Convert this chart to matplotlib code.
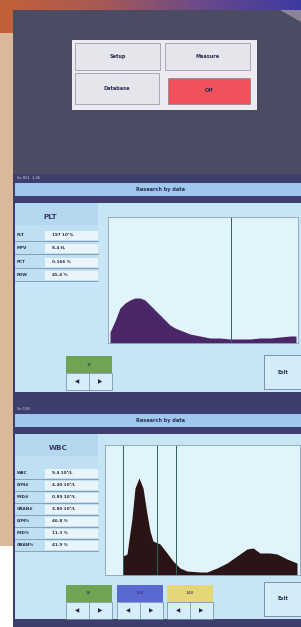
import numpy as np
import matplotlib
matplotlib.use("Agg")
import matplotlib.pyplot as plt
from matplotlib.patches import Rectangle, Polygon

# ---- data ----
menu_labels = ["Setup", "Measure", "Database", "Off"]

plt_names = ["PLT", "MPV", "PCT", "PDW"]
plt_values = ["197 10⁹/L", "8.4 fL", "0.166 %", "45.4 %"]
plt_channel = [2, 7, 12, 17, 22, 27, 32, 37, 42, 47, 52, 57, 62, 67, 72, 77,
               82, 87, 92, 102, 112, 122, 132, 142, 152, 162, 172, 182, 188]
plt_count = [11, 22, 35, 40, 43, 45, 45, 43, 38, 33, 28, 23, 18, 15, 13, 11,
             9, 8, 7, 5, 5, 4, 4, 4, 5, 5, 6, 7, 7]
plt_gates = [123]
plt_gate_labels = ["1F"]

wbc_names = ["WBC", "LYM#", "MID#", "GRAN#", "LYM%", "MID%", "GRAN%"]
wbc_values = ["9.4 10⁹/L", "4.40 10⁹/L", "0.89 10⁹/L", "3.80 10⁹/L",
              "46.8 %", "11.3 %", "41.9 %"]
wbc_channel = [17.9, 18, 22, 27, 30, 34, 38, 42, 45, 48, 55, 62, 68, 75, 82,
               95, 102, 112, 122, 132, 142, 148, 155, 165, 172, 182, 192]
wbc_count = [0, 19, 21, 57, 87, 97, 87, 61, 44, 34, 31, 22, 14, 7, 4,
             3, 3, 7, 12, 19, 26, 27, 22, 22, 21, 16, 12]
wbc_gates = [18, 52, 71]
wbc_gate_labels = ["35", "120", "148"]
wbc_gate_colors = ["#6ea452", "#5a68d2", "#e6d67a"]

W, H = 301, 627
fig = plt.figure(figsize=(W / 100, H / 100), dpi=100)
bg = fig.add_axes([0, 0, 1, 1])
bg.set_xlim(0, W)
bg.set_ylim(H, 0)
bg.axis("off")

txt = "#2c2c52"
fs = 3.6


def box(x, y, w, h, fc, ec="none", lw=0.6, z=1):
    bg.add_patch(Rectangle((x, y), w, h, facecolor=fc, edgecolor=ec, lw=lw, zorder=z))


# page background
box(0, 0, W, H, "white", z=0)
box(0, 0, 14, 546, "#d9b999", z=0)
grad = np.linspace(0, 1, 200).reshape(1, -1)
cmap = matplotlib.colors.LinearSegmentedColormap.from_list(
    "g", ["#c2603a", "#a85a55", "#6a4a8a", "#3e3aa0"])
bg.imshow(grad, extent=(0, W, 10, 0), cmap=cmap, aspect="auto", zorder=0.5)
box(0, 0, 14, 33, "#c2603a", z=0.6)

# top screen (menu)
box(13, 10, W - 13, 164, "#4c4b64", z=1)
bg.add_patch(Polygon([(280, 10), (301, 10), (301, 22)], closed=True,
                     facecolor="#8a8496", edgecolor="none", zorder=1.2))
box(72, 40, 185, 70, "#ebebf1", z=2)
btns = [(75, 43, 85, 27), (165, 43, 85, 27), (75, 73, 84, 31), (168, 78, 82, 26)]
for i, (bx, by, bw, bh) in enumerate(btns):
    fc = "#f0525c" if menu_labels[i] == "Off" else "#e5e5ec"
    box(bx, by, bw, bh, fc, ec="#7a7a88", lw=0.4, z=3)
    bg.text(bx + bw / 2, by + bh / 2, menu_labels[i], ha="center", va="center",
            fontsize=fs, color=txt, fontweight="bold", zorder=4)


def screen(y0, y1, status, title, names, values, row_y, head, head_y, head_x):
    box(13, y0, W - 13, y1 - y0, "#3d3d6e", z=1)
    box(15, y0 + 9, W - 15, 13, "#9fc7ee", z=2)
    bg.text(160, y0 + 15.5, title, ha="center", va="center", fontsize=fs,
            color=txt, fontweight="bold", zorder=3)
    bg.text(17, y0 + 4, status, fontsize=2.6, color="#c8d0e8", va="center", zorder=3)
    box(15, y0 + 29, W - 15, y1 - y0 - 37, "#c6e6f6", z=2)
    # table
    box(15, y0 + 29, 83, row_y[-1] - y0 - 23, "#bfe0f3", z=2.2)
    box(15, y0 + 29, 83, head_y - y0 - 21, "#b3d8f0", z=2.3)
    bg.text(head_x, head_y, head, ha="center", va="center", fontsize=5.2,
            color="#3a3a60", fontweight="bold", zorder=3)
    for n, v, ry in zip(names, values, row_y):
        box(45, ry - 4.5, 53, 9, "#e9f5fb", z=2.5)
        bg.plot([15, 98], [ry + 6, ry + 6], color="#5c6a90", lw=0.4, zorder=2.6)
        bg.text(17, ry, n, ha="left", va="center", fontsize=3.0, color=txt,
                fontweight="bold", zorder=3)
        bg.text(52, ry, v, ha="left", va="center", fontsize=3.0, color=txt,
                fontweight="bold", zorder=3)
    box(264, y1 - 45, 37, 34, "#d3ecf8", ec="#5c6a90", lw=0.5, z=3)
    bg.text(283, y1 - 28, "Exit", ha="center", va="center", fontsize=fs,
            color=txt, fontweight="bold", zorder=4)


def gate_buttons(xs, y, labels, colors):
    for bx, lab, col in zip(xs, labels, colors):
        box(bx, y, 46, 17, col, z=3)
        bg.text(bx + 23, y + 8.5, lab, ha="center", va="center", fontsize=3.2,
                color=txt, zorder=4)
        box(bx, y + 17, 46, 17, "#d6eefa", ec="#5c6a90", lw=0.4, z=3)
        bg.plot([bx + 23, bx + 23], [y + 17, y + 34], color="#5c6a90", lw=0.4, zorder=4)
        bg.text(bx + 11, y + 25.5, "◀", ha="center", va="center", fontsize=4,
                color="#23234a", zorder=4)
        bg.text(bx + 34, y + 25.5, "▶", ha="center", va="center", fontsize=4,
                color="#23234a", zorder=4)


box(13, 396, W - 13, 12, "#3d3d6e", z=1)

screen(174, 400, "Sn 001  1:46", "Research by data", plt_names, plt_values,
       [235, 248, 262, 275], "PLT", 217, 50)
gate_buttons([66], 356, plt_gate_labels, ["#6ea452"])

screen(405, 627, "Sn 108", "Research by data", wbc_names, wbc_values,
       [473, 485, 497, 509, 521, 533, 545], "WBC", 448, 58)
gate_buttons([66, 117, 167], 585, wbc_gate_labels, wbc_gate_colors)


def hist_axes(x0, x1, y0, y1, ch, cnt, gates, color, xmax):
    ax = fig.add_axes([x0 / W, 1 - y1 / H, (x1 - x0) / W, (y1 - y0) / H])
    ax.set_facecolor("#e2f4fb")
    ax.fill_between(ch, cnt, 0, color=color, lw=0)
    for g in gates:
        ax.axvline(g, color="#2f5f60", lw=0.7)
    ax.set_xlim(0, xmax)
    ax.set_ylim(0, y1 - y0)
    ax.set_xticks([])
    ax.set_yticks([])
    for s in ax.spines.values():
        s.set_color("#8aa0b8")
        s.set_linewidth(0.6)
    return ax


hist_axes(108, 298, 217, 343, plt_channel, plt_count, plt_gates, "#4a2868", 190)
hist_axes(105, 300, 445, 575, wbc_channel, wbc_count, wbc_gates, "#2a1416", 195)

fig.savefig("out.png", dpi=100)
